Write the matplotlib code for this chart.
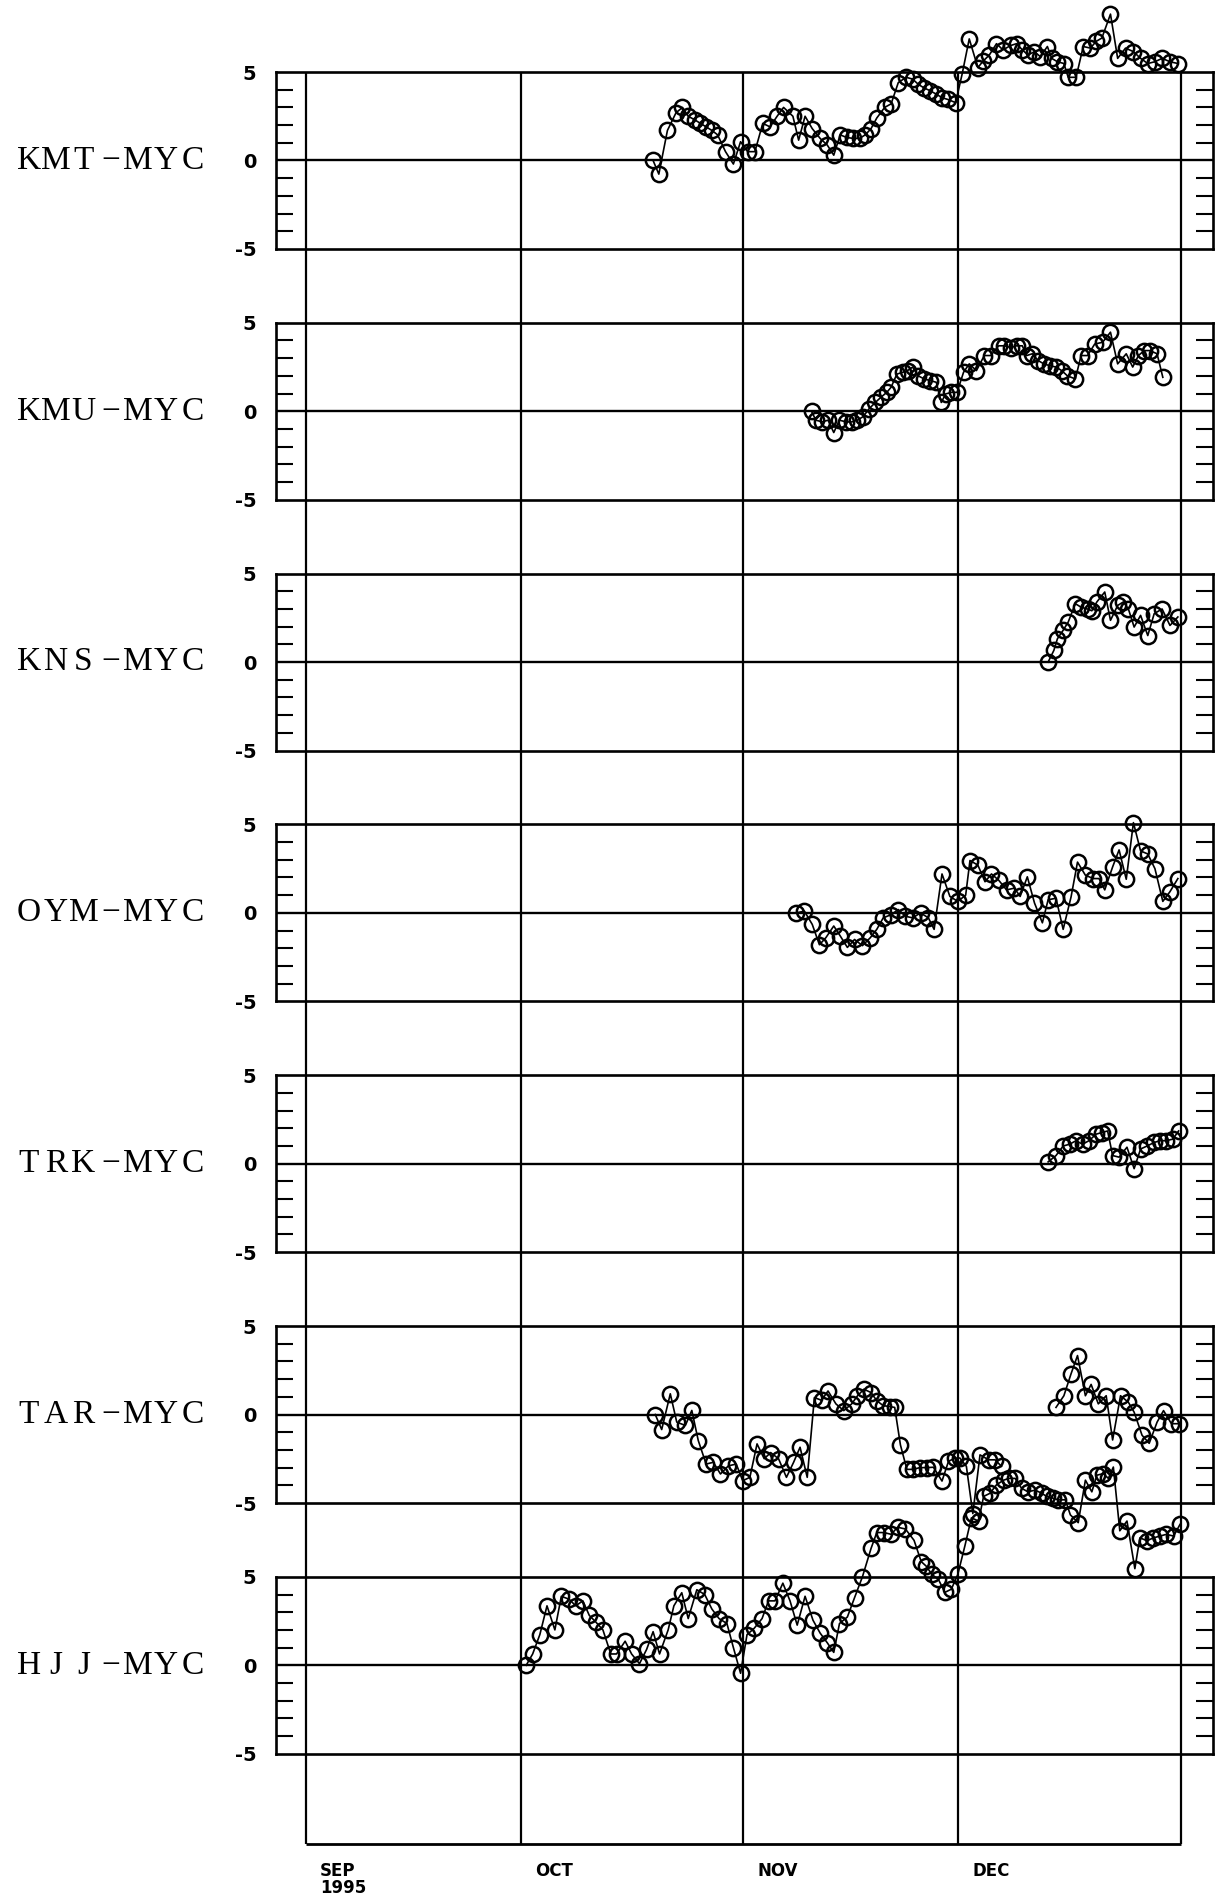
import matplotlib
matplotlib.use("Agg")
import matplotlib.pyplot as plt
import matplotlib.transforms as mtransforms

# days counted from 1 Sep 1995 (day 0)
MONTH_DAYS = [0, 30, 61, 91, 122]
MONTH_LABELS = ["SEP\n1995", "OCT", "NOV", "DEC"]

PAIR_LABELS = ["KMT\u2212MYC", "KMU\u2212MYC", "KNS\u2212MYC", "OYM\u2212MYC",
               "TRK\u2212MYC", "TAR\u2212MYC", "HJJ\u2212MYC"]

kmt_day = [48.4, 49.2, 50.4, 51.6, 52.5, 53.3, 54.2, 55.0, 55.8, 56.6, 57.4, 58.5, 59.6, 60.6,
           61.6, 62.6, 63.7, 64.7, 65.7, 66.6, 67.9, 68.7, 69.6, 70.6, 71.7, 72.7, 73.6, 74.5,
           75.4, 76.3, 77.2, 78.0, 78.8, 79.6, 80.7, 81.6, 82.6, 83.7, 84.6, 85.4, 86.2, 87.0,
           87.9, 88.7, 89.5, 90.6, 91.5, 92.5, 93.7, 94.4, 95.3, 96.3, 97.2, 98.3, 99.1, 99.9,
           100.7, 101.6, 102.4, 103.4, 104.0, 104.8, 105.7, 106.3, 107.4, 108.4, 109.4, 110.2,
           111.0, 112.2, 113.2, 114.3, 115.4, 116.4, 117.4, 118.4, 119.4, 120.5, 121.6]
kmt_val = [0.0, -0.77, 1.7, 2.7, 3.0, 2.5, 2.3, 2.1, 1.9, 1.7, 1.45, 0.5, -0.2, 1.06, 0.5, 0.5,
           2.1, 1.9, 2.5, 3.0, 2.5, 1.15, 2.5, 1.8, 1.25, 0.87, 0.3, 1.45, 1.3, 1.25, 1.25, 1.45,
           1.8, 2.4, 3.0, 3.2, 4.4, 4.7, 4.6, 4.3, 4.1, 3.95, 3.75, 3.55, 3.45, 3.27, 4.87, 6.87,
           5.25, 5.6, 5.96, 6.6, 6.25, 6.5, 6.6, 6.25, 5.96, 6.15, 5.87, 6.44, 5.77, 5.58, 5.48,
           4.7, 4.7, 6.44, 6.35, 6.73, 6.92, 8.27, 5.77, 6.35, 6.15, 5.77, 5.48, 5.58, 5.77,
           5.58, 5.48]

kmu_day = [70.5, 71.1, 72.0, 72.8, 73.6, 74.4, 75.3, 76.1, 76.9, 77.7, 78.5, 79.4, 80.2, 81.0,
           81.6, 82.4, 83.2, 83.9, 84.6, 85.4, 86.2, 87.0, 87.9, 88.6, 89.2, 90.0, 90.8, 91.7,
           92.5, 93.5, 94.6, 95.5, 96.6, 97.4, 98.3, 99.1, 99.9, 100.5, 101.3, 102.1, 102.9,
           103.7, 104.6, 105.4, 106.2, 107.3, 108.1, 109.0, 110.0, 111.1, 112.2, 113.2, 114.4,
           115.3, 116.1, 116.9, 117.7, 118.7, 119.5]
kmu_val = [0.0, -0.5, -0.6, -0.5, -1.2, -0.5, -0.6, -0.6, -0.5, -0.3, 0.13, 0.5, 0.8, 1.07,
           1.36, 2.1, 2.2, 2.3, 2.5, 2.0, 1.83, 1.74, 1.64, 0.5, 0.98, 1.07, 1.07, 2.2, 2.68, 2.3,
           3.15, 3.15, 3.7, 3.7, 3.6, 3.7, 3.7, 3.15, 3.25, 2.87, 2.68, 2.58, 2.5, 2.3, 2.0, 1.83,
           3.15, 3.15, 3.8, 3.9, 4.47, 2.68, 3.25, 2.5, 3.15, 3.43, 3.43, 3.25, 1.92]

kns_day = [103.5, 104.3, 104.8, 105.6, 106.3, 107.3, 108.1, 109.0, 109.6, 110.3, 111.4, 112.2,
           113.2, 114.0, 114.7, 115.5, 116.4, 117.4, 118.3, 119.4, 120.5, 121.6]
kns_val = [0.0, 0.66, 1.32, 1.8, 2.26, 3.3, 3.1, 3.0, 2.9, 3.4, 3.96, 2.36, 3.2, 3.4, 3.0, 1.98,
           2.64, 1.5, 2.74, 3.0, 2.07, 2.55]

oym_day = [68.4, 69.5, 70.6, 71.6, 72.5, 73.6, 74.5, 75.5, 76.5, 77.6, 78.7, 79.6, 80.5, 81.6,
           82.6, 83.6, 84.6, 85.7, 86.8, 87.6, 88.7, 89.8, 90.9, 92.0, 92.6, 93.7, 94.7, 95.6,
           96.6, 97.7, 98.8, 99.6, 100.6, 101.6, 102.7, 103.5, 104.6, 105.6, 106.7, 107.6, 108.7,
           109.8, 110.6, 111.4, 112.5, 113.4, 114.4, 115.4, 116.4, 117.4, 118.4, 119.5, 120.5,
           121.6]
oym_val = [0.0, 0.1, -0.65, -1.8, -1.4, -0.74, -1.3, -1.95, -1.5, -1.85, -1.4, -0.93, -0.28,
           -0.1, 0.19, -0.19, -0.28, 0.0, -0.28, -0.93, 2.2, 0.93, 0.65, 1.0, 2.96, 2.7, 1.76,
           2.2, 1.85, 1.3, 1.4, 0.93, 2.04, 0.56, -0.56, 0.74, 0.83, -0.93, 0.9, 2.87, 2.13, 1.94,
           1.94, 1.3, 2.6, 3.56, 1.9, 5.1, 3.5, 3.33, 2.5, 0.65, 1.2, 1.94]

trk_day = [103.5, 104.6, 105.6, 106.5, 107.4, 108.3, 109.2, 110.2, 111.0, 111.8, 112.5, 113.4,
           114.5, 115.5, 116.4, 117.3, 118.3, 119.1, 120.0, 120.9, 121.7]
trk_val = [0.1, 0.46, 1.0, 1.1, 1.3, 1.1, 1.3, 1.67, 1.76, 1.85, 0.46, 0.37, 0.93, -0.28, 0.83,
           1.0, 1.2, 1.3, 1.3, 1.39, 1.85]

# TAR has a gap in early December
tar_day_a = [48.7, 49.6, 50.8, 51.7, 52.9, 53.8, 54.7, 55.8, 56.8, 57.8, 58.9, 60.0, 60.9, 61.9,
             62.9, 63.9, 64.8, 65.9, 67.0, 68.0, 68.9, 69.9, 70.9, 71.9, 72.8, 73.9, 75.0, 76.1,
             76.9, 77.8, 78.8, 79.6, 80.5, 81.4, 82.1, 82.9, 83.8, 84.7, 85.6, 86.6, 87.5, 88.7,
             89.6, 90.5, 91.2, 92.1, 93.0, 94.0, 95.2, 96.1, 97.0]
tar_val_a = [0.0, -0.85, 1.17, -0.43, -0.62, 0.23, -1.47, -2.8, -2.7, -3.36, -2.9, -2.8, -3.74,
             -3.55, -1.66, -2.5, -2.15, -2.5, -3.55, -2.7, -1.85, -3.55, 0.96, 0.8, 1.33, 0.6,
             0.22, 0.6, 1.05, 1.43, 1.24, 0.78, 0.5, 0.45, 0.4, -1.72, -3.1, -3.1, -3.0, -3.0,
             -2.98, -3.76, -2.65, -2.46, -2.46, -2.93, -5.6, -2.28, -2.56, -2.56, -2.93]
tar_day_b = [104.6, 105.7, 106.7, 107.6, 108.7, 109.5, 110.5, 111.6, 112.5, 113.6, 114.7, 115.5,
             116.6, 117.6, 118.7, 119.6, 120.7, 121.8]
tar_val_b = [0.4, 1.06, 2.3, 3.33, 1.06, 1.7, 0.6, 1.06, -1.44, 1.06, 0.69, 0.13, -1.17, -1.63,
             -0.43, 0.22, -0.52, -0.52]

hjj_day = [30.7, 31.6, 32.6, 33.6, 34.7, 35.6, 36.7, 37.6, 38.6, 39.5, 40.4, 41.4, 42.5, 43.3,
           44.5, 45.4, 46.5, 47.5, 48.4, 49.3, 50.5, 51.3, 52.4, 53.3, 54.5, 55.6, 56.6, 57.6,
           58.7, 59.6, 60.6, 61.5, 62.5, 63.6, 64.5, 65.4, 66.5, 67.5, 68.5, 69.6, 70.7, 71.7,
           72.7, 73.6, 74.4, 75.5, 76.5, 77.6, 78.8, 79.6, 80.6, 81.6, 82.5, 83.6, 84.8, 85.8,
           86.5, 87.3, 88.2, 89.1, 90.0, 90.9, 91.9, 92.8, 93.8, 94.5, 95.4, 96.3, 97.3, 98.0,
           98.9, 99.8, 100.7, 101.7, 102.6, 103.3, 104.2, 104.9, 105.9, 106.6, 107.7, 108.7,
           109.6, 110.3, 111.2, 111.9, 112.6, 113.5, 114.5, 115.6, 116.3, 117.3, 118.2, 119.1,
           120.0, 121.0, 121.9]
hjj_val = [0.0, 0.64, 1.73, 3.36, 2.0, 3.9, 3.73, 3.36, 3.64, 2.82, 2.45, 2.0, 0.64, 0.64, 1.36,
           0.64, 0.09, 0.9, 1.9, 0.64, 2.0, 3.36, 4.1, 2.64, 4.27, 4.0, 3.18, 2.64, 2.36, 1.0,
           -0.45, 1.73, 2.09, 2.64, 3.64, 3.64, 4.64, 3.64, 2.27, 3.9, 2.55, 1.82, 1.27, 0.73,
           2.36, 2.73, 3.82, 5.0, 6.6, 7.5, 7.5, 7.4, 7.8, 7.7, 7.06, 5.86, 5.6, 5.13, 4.85, 4.12,
           4.3, 5.13, 6.76, 8.33, 8.15, 9.54, 9.72, 10.2, 10.46, 10.56, 10.56, 10.0, 9.8, 9.9,
           9.72, 9.54, 9.44, 9.35, 9.35, 8.5, 8.06, 10.46, 9.8, 10.74, 10.83, 10.56, 11.2, 7.6,
           8.15, 5.46, 7.2, 7.04, 7.2, 7.3, 7.4, 7.3, 7.96]

PANEL_SERIES = [
    [(kmt_day, kmt_val)],
    [(kmu_day, kmu_val)],
    [(kns_day, kns_val)],
    [(oym_day, oym_val)],
    [(trk_day, trk_val)],
    [(tar_day_a, tar_val_a), (tar_day_b, tar_val_b)],
    [(hjj_day, hjj_val)],
]

# layout in pixels
W, H = 1216, 1901
PANEL_LEFT, PANEL_RIGHT = 276, 1213
PANEL_TOP0, PANEL_STEP, PANEL_H = 72, 250.8, 177
BG_BOTTOM = 1844
XLIM = (-4.2, 126.5)
LABEL_X0, LABEL_CELL = 15, 27.4   # old typewriter-style label: fixed cell per character


def frac_box(left, top, right, bottom):
    return [left / W, 1 - bottom / H, (right - left) / W, (bottom - top) / H]


def main() -> None:
    fig = plt.figure(figsize=(W / 100, H / 100), dpi=100)

    # month grid behind the panels
    ax_bg = fig.add_axes(frac_box(PANEL_LEFT, PANEL_TOP0, PANEL_RIGHT, BG_BOTTOM), zorder=0)
    ax_bg.set_xlim(*XLIM)
    ax_bg.set_ylim(0, 1)
    ax_bg.axis("off")
    for d in MONTH_DAYS:
        ax_bg.axvline(d, color="black", lw=1.6)
    ax_bg.hlines(0, MONTH_DAYS[0], MONTH_DAYS[-1], color="black", lw=2.0, clip_on=False)
    for d, lab in zip(MONTH_DAYS[:-1], MONTH_LABELS):
        ax_bg.annotate(lab, xy=(d, 0), xycoords="data", xytext=(10, -13),
                       textcoords="offset points", ha="left", va="top",
                       fontsize=12, fontweight="bold", linespacing=0.95,
                       family="DejaVu Sans")

    for i, (label, series) in enumerate(zip(PAIR_LABELS, PANEL_SERIES)):
        top = PANEL_TOP0 + i * PANEL_STEP
        ax = fig.add_axes(frac_box(PANEL_LEFT, top, PANEL_RIGHT, top + PANEL_H), zorder=1 + i)
        ax.patch.set_alpha(0)
        ax.set_xlim(*XLIM)
        ax.set_ylim(-5, 5)
        ax.set_xticks([])
        ax.set_yticks([-5, 0, 5])
        ax.set_yticklabels(["-5", "0", "5"], fontsize=14, fontweight="bold")
        ax.set_yticks([-4, -3, -2, -1, 1, 2, 3, 4], minor=True)
        ax.tick_params(axis="y", which="major", length=0, pad=14)
        ax.tick_params(axis="y", which="minor", direction="in", length=12, width=1.5,
                       left=True, right=True)
        for sp in ax.spines.values():
            sp.set_linewidth(1.9)
        ax.axhline(0, color="black", lw=1.7)

        for days, vals in series:
            ax.plot(days, vals, "-o", color="black", lw=1.2, ms=11, mfc="none", mew=1.8,
                    clip_on=False, zorder=3)

        trans = mtransforms.blended_transform_factory(fig.transFigure, ax.transData)
        for j, ch in enumerate(label):
            ax.text((LABEL_X0 + LABEL_CELL * (j + 0.5)) / W, 0, ch, transform=trans,
                    ha="center", va="center", fontsize=24,
                    family=["Liberation Serif", "DejaVu Serif"])

    fig.savefig("out.png", dpi=100)


if __name__ == "__main__":
    main()
